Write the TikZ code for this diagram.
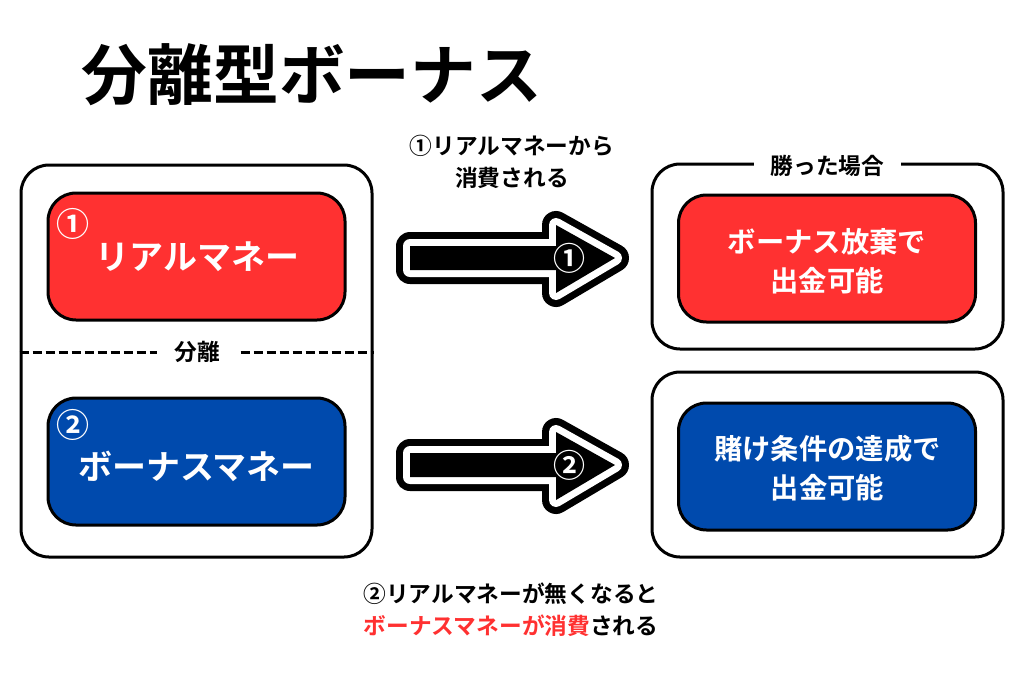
\documentclass[tikz,border=0pt]{standalone}
\usepackage{fontspec}
\setmainfont{Noto Sans CJK JP}[BoldFont={Noto Sans CJK JP Bold}]
\definecolor{redbox}{HTML}{FF3131}
\definecolor{bluebox}{HTML}{004AAD}
\tikzset{
  x=1pt,y=-1pt,
  outerbox/.style={draw=black,line width=3pt,rounded corners=28pt,inner sep=0pt,fill=white},
  innerbox/.style={draw=black,line width=3pt,rounded corners=28pt,inner sep=0pt,minimum width=297pt,minimum height=127pt},
  lbl/.style={inner sep=0pt,font=\bfseries\fontsize{22.7}{32}\selectfont,align=center},
  gaplbl/.style={lbl,fill=white,inner xsep=17pt,inner ysep=1pt},
  bigtxt/.style={inner sep=0pt,text=white,font=\bfseries\fontsize{34}{40}\selectfont},
  midtxt/.style={inner sep=0pt,text=white,align=center,font=\bfseries\fontsize{28.3}{39}\selectfont},
  numred/.style={inner sep=0pt,text=white,font=\bfseries\fontsize{33}{33}\selectfont},
  arrowout/.style={draw=black,line width=28pt,line join=round},
  arrowmid/.style={draw=white,line width=14pt,line join=round},
  arrowcore/.style={fill=black},
  arrownum/.style={inner sep=0pt,text=white,font=\bfseries\fontsize{32}{32}\selectfont},
}
\newcommand{\arrowshape}[1]{(410,#1-12) -- (556,#1-12) -- (556,#1-33) -- (615,#1) -- (556,#1+35) -- (556,#1+12) -- (410,#1+12) -- cycle}
\begin{document}
\begin{tikzpicture}
\useasboundingbox (0,0) rectangle (1024,683);
\fill[white] (0,0) rectangle (1024,683);
\node[inner sep=0pt,font=\bfseries\fontsize{65.8}{70}\selectfont] (title) at (312,75) {分離型ボーナス};
% left panel
\node[outerbox,minimum width=351pt,minimum height=392pt] (left) at (196.5,361) {};
\node[innerbox,fill=redbox] (real) at (196.5,256.5) {};
\node[bigtxt] (realT) at (197.5,257) {リアルマネー};
\node[innerbox,fill=bluebox] (bonus) at (196.5,461.5) {};
\node[bigtxt] (bonusT) at (196.5,466) {ボーナスマネー};
\node[numred] (n1) at (73,224) {①};
\node[numred] (n2) at (73,425) {②};
\draw[line width=3pt,dash pattern=on 9.5pt off 3.5pt] (left.west |- 0,352) -- (left.east |- 0,352);
\node[gaplbl] (sep) at (197,352) {分離};
% right panels
\node[outerbox,minimum width=351pt,minimum height=185pt] (rtop) at (827.5,256.5) {};
\node[outerbox,minimum width=351pt,minimum height=185pt] (rbot) at (827.5,464.5) {};
\node[gaplbl,inner ysep=4pt] (won) at (827.5,166) {勝った場合};
\node[innerbox,fill=redbox] (give) at (827,258.5) {};
\node[midtxt] (giveT) at (827,261) {ボーナス放棄で\\出金可能};
\node[innerbox,fill=bluebox] (wager) at (827,466.5) {};
\node[midtxt] (wagerT) at (827.5,468.5) {賭け条件の達成で\\出金可能};
% arrows
\draw[arrowout] \arrowshape{258};
\draw[arrowmid] \arrowshape{258};
\fill[arrowcore] \arrowshape{258};
\node[arrownum] (a1) at (569.5,258) {①};
\draw[arrowout] \arrowshape{465};
\draw[arrowmid] \arrowshape{465};
\fill[arrowcore] \arrowshape{465};
\node[arrownum] (a2) at (569.5,465) {②};
% captions
\node[lbl] (cap1) at (512,162) {①リアルマネーから\\消費される};
\node[lbl] (cap2) at (511,609.5) {②リアルマネーが無くなると\\\textcolor{redbox}{ボーナスマネーが消費}される};
\end{tikzpicture}
\end{document}
